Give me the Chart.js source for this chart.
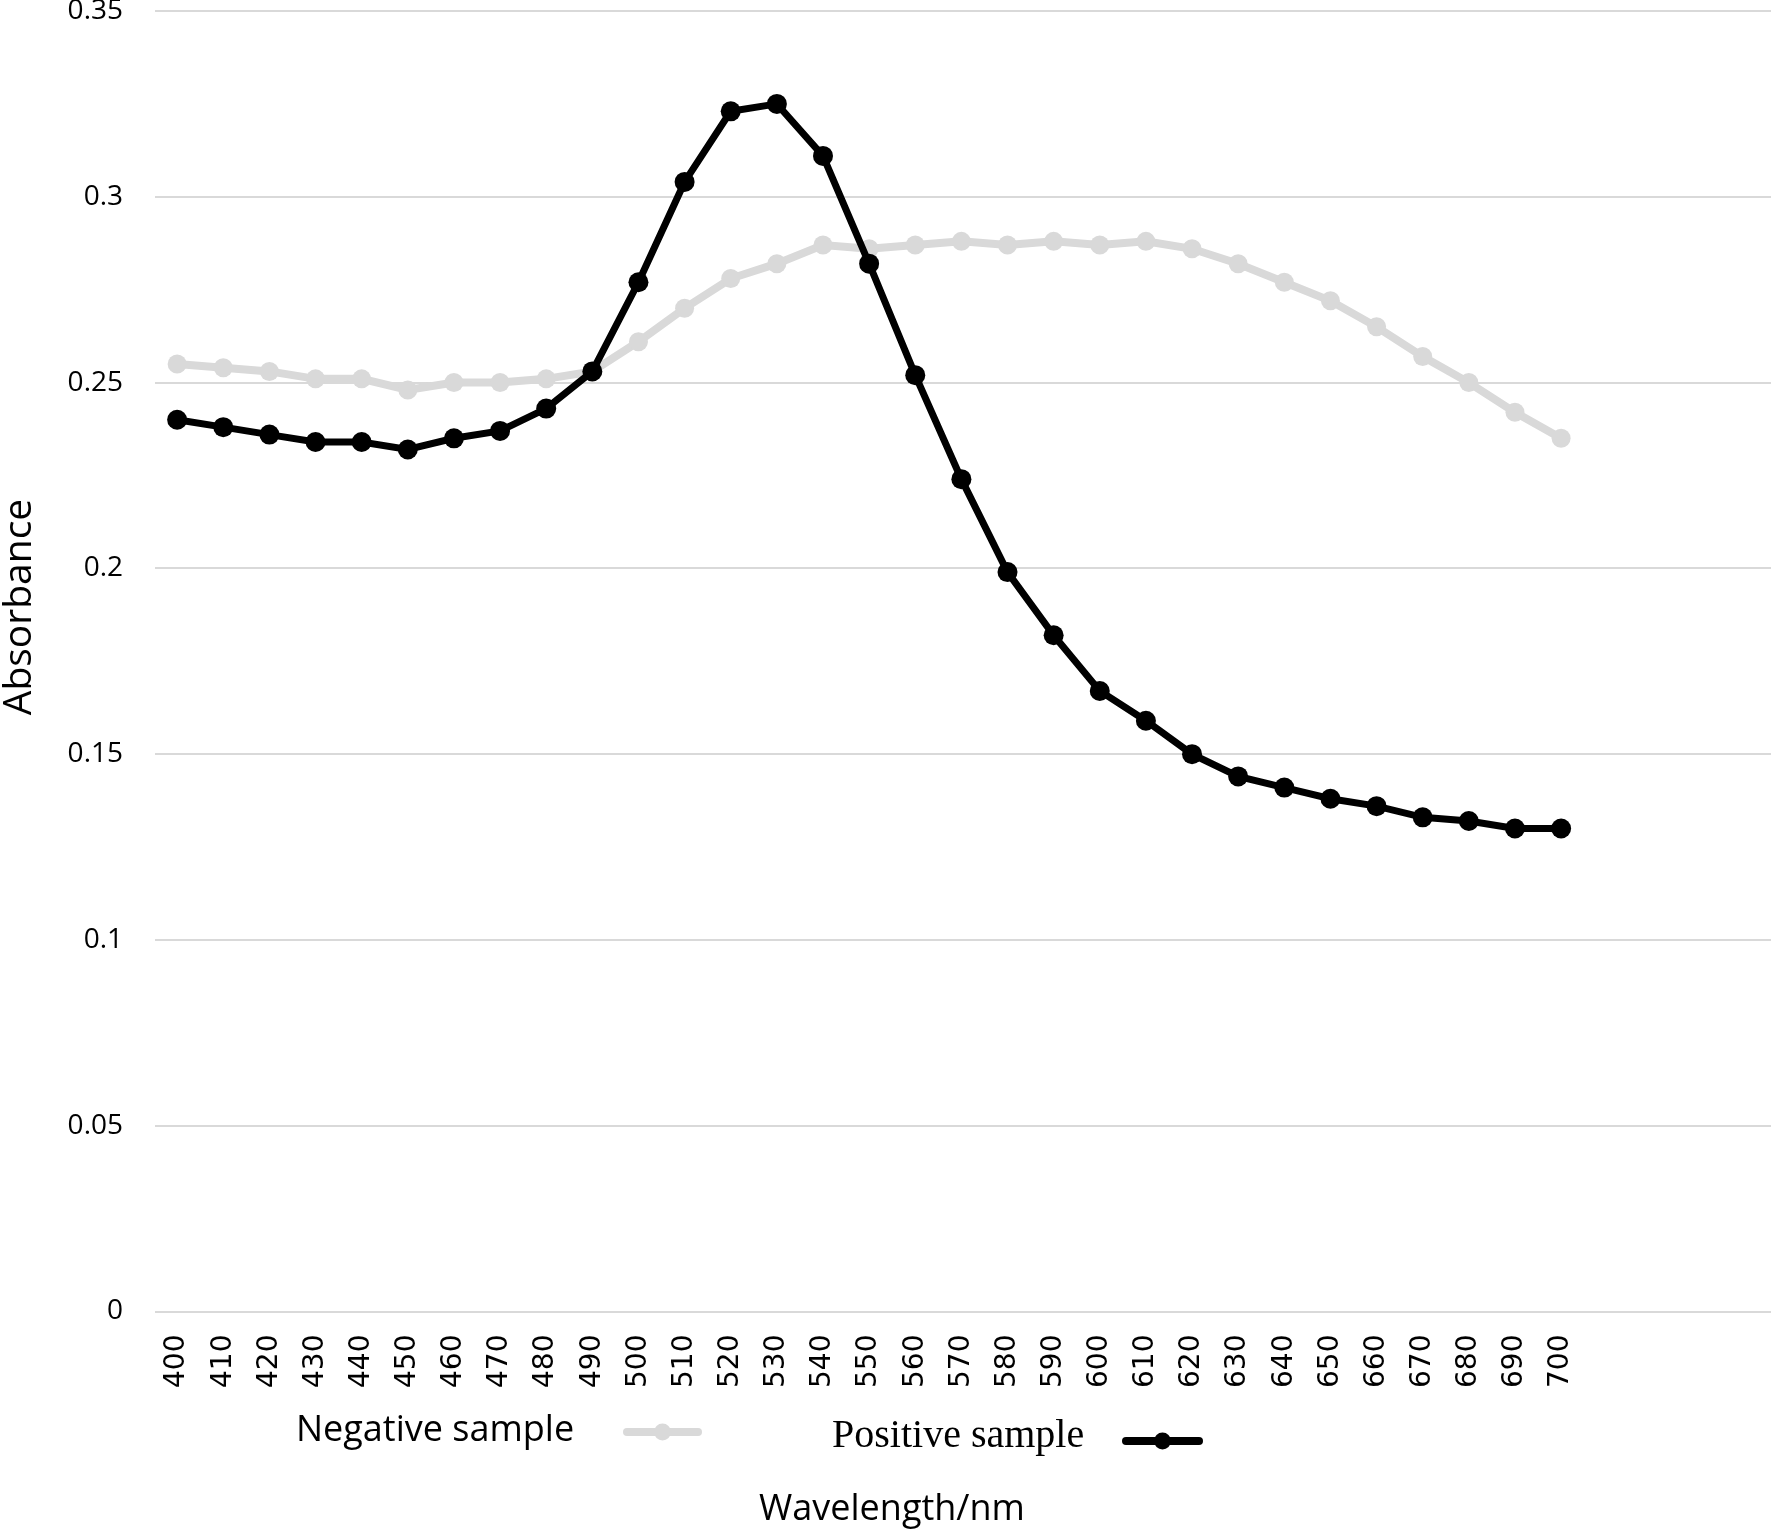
<!DOCTYPE html>
<html>
<head>
<meta charset="utf-8">
<title>Absorbance</title>
<script src="https://cdn.jsdelivr.net/npm/chart.js@4.4.0/dist/chart.umd.min.js"></script>
<style>
    html, body { margin: 0; padding: 0; background: #ffffff; overflow: hidden; }
    #wrap { width: 1771px; height: 1532px; }
    canvas { display: block; }
</style>
</head>
<body>
<div id="wrap"><canvas id="absorbance-chart" width="1771" height="1532"></canvas></div>
<script>
// ==================================================
// DATOS
// ==================================================
const wavelengths = [400, 410, 420, 430, 440, 450, 460, 470, 480, 490, 500,
                     510, 520, 530, 540, 550, 560, 570, 580, 590, 600,
                     610, 620, 630, 640, 650, 660, 670, 680, 690, 700];

const negativeSample = [0.255, 0.254, 0.253, 0.251, 0.251, 0.248, 0.250, 0.250, 0.251, 0.253, 0.261,
                        0.270, 0.278, 0.282, 0.287, 0.286, 0.287, 0.288, 0.287, 0.288, 0.287,
                        0.288, 0.286, 0.282, 0.277, 0.272, 0.265, 0.257, 0.250, 0.242, 0.235];

const positiveSample = [0.240, 0.238, 0.236, 0.234, 0.234, 0.232, 0.235, 0.237, 0.243, 0.253, 0.277,
                        0.304, 0.323, 0.325, 0.311, 0.282, 0.252, 0.224, 0.199, 0.182, 0.167,
                        0.159, 0.150, 0.144, 0.141, 0.138, 0.136, 0.133, 0.132, 0.130, 0.130];

const yTicks = [0, 0.05, 0.1, 0.15, 0.2, 0.25, 0.3, 0.35];

const seriesNames = ['Negative sample', 'Positive sample'];
const xTitle = 'Wavelength/nm';
const yTitle = 'Absorbance';

// ==================================================
// LEYENDA Y TÍTULOS DE EJES (dibujados a mano)
// ==================================================
function drawMarker(ctx, x1, x2, y, ds) {
    ctx.strokeStyle = ds.borderColor;
    ctx.lineWidth = 8;
    ctx.lineCap = 'round';
    ctx.beginPath();
    ctx.moveTo(x1, y);
    ctx.lineTo(x2, y);
    ctx.stroke();
    ctx.fillStyle = ds.pointBackgroundColor;
    ctx.beginPath();
    ctx.arc((x1 + x2) / 2, y, 8.5, 0, Math.PI * 2);
    ctx.fill();
}

const sampleLegend = {
    id: 'sampleLegend',
    afterDraw: function(chart) {
        const ctx = chart.ctx;
        const ds = chart.data.datasets;
        ctx.save();
        ctx.textBaseline = 'middle';
        ctx.textAlign = 'left';

        // Leyenda
        ctx.fillStyle = '#000000';
        ctx.font = '36px "Open Sans"';
        ctx.fillText(ds[0].label, 296, 1431);
        drawMarker(ctx, 627, 698, 1432, ds[0]);

        ctx.fillStyle = '#000000';
        ctx.font = '40px "Liberation Serif"';
        ctx.fillText(ds[1].label, 832, 1436);
        drawMarker(ctx, 1126, 1199, 1441, ds[1]);

        // Título eje X
        ctx.fillStyle = '#000000';
        ctx.textAlign = 'center';
        ctx.font = '36px "Open Sans"';
        ctx.fillText(xTitle, 892, 1510);

        // Título eje Y
        ctx.translate(20, 607);
        ctx.rotate(-Math.PI / 2);
        ctx.font = '39px "Open Sans"';
        ctx.fillText(yTitle, 0, 0);

        ctx.restore();
    }
};

// ==================================================
// GRÁFICO
// ==================================================
const ctx = document.getElementById('absorbance-chart').getContext('2d');

new Chart(ctx, {
    type: 'line',
    data: {
        datasets: [
            {
                label: seriesNames[0],
                data: wavelengths.map((w, i) => ({ x: w, y: negativeSample[i] })),
                borderColor: '#d9d9d9',
                backgroundColor: '#d9d9d9',
                pointBackgroundColor: '#d9d9d9',
                pointBorderColor: '#d9d9d9',
                borderWidth: 8,
                pointRadius: 9.5,
                pointBorderWidth: 0,
                tension: 0,
                fill: false,
                order: 1
            },
            {
                label: seriesNames[1],
                data: wavelengths.map((w, i) => ({ x: w, y: positiveSample[i] })),
                borderColor: '#000000',
                backgroundColor: '#000000',
                pointBackgroundColor: '#000000',
                pointBorderColor: '#000000',
                borderWidth: 7,
                pointRadius: 10,
                pointBorderWidth: 0,
                tension: 0,
                fill: false,
                order: 0
            }
        ]
    },
    options: {
        responsive: false,
        animation: false,
        devicePixelRatio: 1,
        // sin autoPadding: las líneas de la rejilla llegan hasta el borde derecho
        layout: { autoPadding: false, padding: { top: 11, left: 0, right: 0, bottom: 0 } },
        plugins: {
            legend: { display: false },
            tooltip: { enabled: false }
        },
        scales: {
            x: {
                type: 'linear',
                min: 395.2,
                max: 745.5,
                afterBuildTicks: function(axis) {
                    axis.ticks = wavelengths.map(v => ({ value: v }));
                },
                afterFit: function(scale) {
                    scale.height = 220.5;
                    scale.paddingLeft = 0;
                    scale.paddingRight = 0;
                },
                grid: { display: false },
                border: { display: false },
                ticks: {
                    autoSkip: false,
                    minRotation: 90,
                    maxRotation: 90,
                    padding: 15,
                    color: '#000000',
                    font: { family: 'DejaVu Sans', size: 28 }
                }
            },
            y: {
                min: 0,
                max: 0.35,
                afterBuildTicks: function(axis) {
                    axis.ticks = yTicks.map(v => ({ value: v }));
                },
                afterFit: function(scale) {
                    scale.width = 155;
                    scale.paddingTop = 0;
                    scale.paddingBottom = 0;
                },
                grid: {
                    color: '#d9d9d9',
                    lineWidth: 2,
                    drawTicks: false
                },
                border: { display: false },
                ticks: {
                    padding: 32,
                    color: '#000000',
                    font: { family: 'Open Sans', size: 28 },
                    callback: function(value) { return String(value); }
                }
            }
        }
    },
    plugins: [sampleLegend]
});
</script>
</body>
</html>
